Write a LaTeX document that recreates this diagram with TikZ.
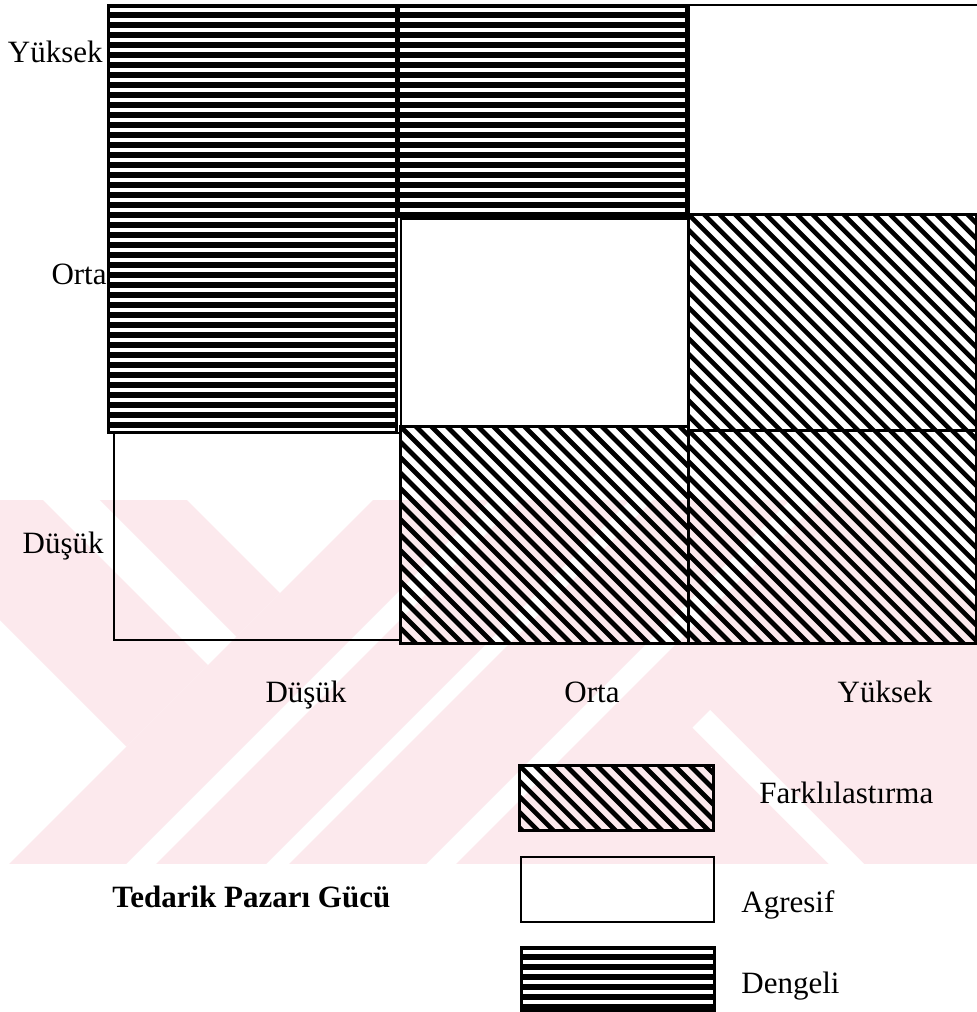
\documentclass[tikz,border=0pt]{standalone}
\usepackage{fontspec}
\setmainfont{Liberation Serif}
\usepackage{tikz}
\definecolor{wmpink}{RGB}{252,233,237}
\tikzset{
  hatchframe/.style={draw=black, line width=1.5pt},
  plainframe/.style={draw=black, line width=1pt},
  dengeliline/.style={black, line width=2.75pt},
  farkliline/.style={black, line width=2.3pt},
  axislabel/.style={font=\fontsize{15.5}{18}\selectfont, inner sep=0pt},
  titlelabel/.style={font=\fontsize{15.5}{18}\selectfont\bfseries, inner sep=0pt}
}
% horizontal hatch (Dengeli)
\newcommand{\dengelicell}[4]{%
  \begin{scope}
    \clip (#1,#2) rectangle (#3,#4);
    \foreach \k in {0,...,45} \draw[dengeliline] (#1,#2+10*\k) -- (#3,#2+10*\k);
  \end{scope}
  \draw[hatchframe] (#1,#2) rectangle (#3,#4);}
% diagonal hatch (Farklilastirma)
\newcommand{\farklicell}[4]{%
  \begin{scope}
    \clip (#1,#2) rectangle (#3,#4);
    \foreach \k in {-20,...,25} \draw[farkliline] (#1+15.5*\k,#2) -- ++(300,300);
  \end{scope}
  \draw[hatchframe] (#1,#2) rectangle (#3,#4);}

\begin{document}
\begin{tikzpicture}[x=0.5pt, y=-0.5pt]
  \fill[white] (0,0) rectangle (977,1012);
  \useasboundingbox (0,0) rectangle (977,1012);

  % watermark
  \begin{scope}
    \clip (0,500) rectangle (977,863);
    \fill[wmpink] (-57,400) -- (208,665) -- (126.5,746.5) -- (-220,400) -- cycle;
    \fill[wmpink] (0,400) -- (87,400) -- (280,593) -- (236.5,636.5) -- cycle;
    \fill[wmpink] (473,400) -- (590,400) -- (27,963) -- (-90,963) -- cycle;
    \fill[wmpink] (620,400) -- (730,400) -- (167,963) -- (57,963) -- cycle;
    \fill[wmpink] (753,400) -- (890,400) -- (327,963) -- (190,963) -- cycle;
    \fill[wmpink] (920,400) -- (1100,400) -- (1100,963) -- (357,963) -- cycle;
    \fill[white] (846.5,473.5) -- (920,400) -- (1100,400) -- (1100,727) -- cycle;
    \fill[white] (710,710) -- (963,963) -- (928,963) -- (692.5,727.5) -- cycle;
  \end{scope}

  % matrix cells
  \dengelicell{108}{5}{396}{432}
  \dengelicell{398}{5}{686}{216}
  \draw[plainframe] (689,5) rectangle (982,214);
  \draw[plainframe] (401,219) rectangle (688,426);
  \draw[plainframe] (114,433) rectangle (400,640);
  \farklicell{688}{214}{976}{430}
  \farklicell{400}{426}{688}{643}
  \farklicell{688}{430}{976}{643}

  % axis labels
  \node[axislabel, anchor=base east] (yhigh) at (103,62) {Yüksek};
  \node[axislabel, anchor=base east] (ymid) at (107,284) {Orta};
  \node[axislabel, anchor=base east] (ylow) at (104,553) {Düşük};
  \node[axislabel, anchor=base] (xlow) at (306,702) {Düşük};
  \node[axislabel, anchor=base] (xmid) at (592,702) {Orta};
  \node[axislabel, anchor=base] (xhigh) at (885,702) {Yüksek};

  % legend
  \farklicell{519}{765}{713}{830}
  \draw[plainframe] (521,857) rectangle (714,922);
  \dengelicell{521}{947}{714}{1011}
  \node[axislabel, anchor=base west] (legfark) at (759,803) {Farklılastırma};
  \node[axislabel, anchor=base west] (legagr) at (741,912) {Agresif};
  \node[axislabel, anchor=base west] (legden) at (741,993) {Dengeli};
  \node[titlelabel, anchor=base west] (title) at (112,907) {Tedarik Pazarı Gücü};
\end{tikzpicture}
\end{document}
